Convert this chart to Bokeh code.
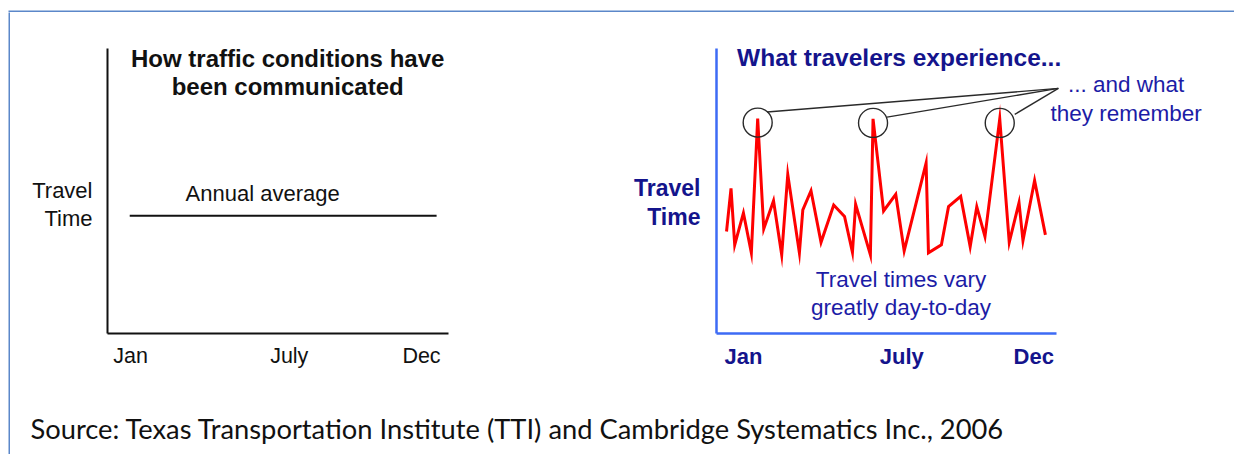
from bokeh.plotting import figure
from bokeh.models import Range1d, FixedTicker, Label, Spacer
from bokeh.layouts import column, row
from bokeh.embed import file_html
from bokeh.resources import INLINE

# ---------------- data ----------------
tick_months = [1, 7, 12]
tick_labels = ["Jan", "July", "Dec"]

# communicated annual average (left panel)
annual_avg_months = [0.97, 12.57]
annual_avg_value = [41.3, 41.3]

# experienced day-to-day travel times (right panel)
daily_months = [0.36, 0.53, 0.67, 1.00, 1.30, 1.54, 1.77, 2.14, 2.45, 2.68,
                3.12, 3.25, 3.56, 3.94, 4.42, 4.83, 5.13, 5.25, 5.81, 5.91,
                6.31, 6.77, 7.09, 7.92, 8.01, 8.50, 8.77, 9.23, 9.59, 9.84,
                10.15, 10.71, 11.07, 11.44, 11.59, 12.03, 12.44]
daily_times = [35.8, 50.9, 31.1, 42.3, 28.3, 75.4, 36.7, 46.6, 27.6, 55.8,
               28.3, 43.4, 50.1, 32.0, 45.1, 41.1, 28.5, 45.3, 27.6, 75.3,
               43.0, 48.8, 29.0, 59.8, 28.3, 31.1, 44.5, 48.1, 30.5, 44.5,
               34.0, 75.3, 32.0, 45.9, 32.6, 53.7, 34.6]

# ---------------- styles ----------------
BORDER = "#5b87c9"
NAVY = "#14148c"
TEXT_BLUE = "#1c1ca6"
AXIS_BLUE = "#3d6bf5"
INK = "#111111"
FONT = "Liberation Sans"

W, H = 1234, 454
TOP = 12  # height of the strip that carries the top border rule


def bare(width, height, fill):
    f = figure(width=width, height=height, x_axis_type=None, y_axis_type=None,
               x_range=Range1d(0, width), y_range=Range1d(0, height),
               output_backend="svg", toolbar_location=None, min_border=0,
               outline_line_color=None, title=None)
    f.background_fill_color = fill
    f.border_fill_color = fill
    f.xgrid.visible = False
    f.ygrid.visible = False
    return f


def panel(width, height, xr, borders, axis_color, axis_width, xbounds,
          label_color, label_style, xlabel_size, ylabel_size, ylab_ticks, ylab_text, ystandoff):
    l, r, t, b = borders
    p = figure(width=width, height=height, x_range=Range1d(*xr), y_range=Range1d(0, 100),
               output_backend="svg", toolbar_location=None, title=None,
               min_border_left=l, min_border_right=r, min_border_top=t, min_border_bottom=b,
               outline_line_color=None)
    p.xgrid.visible = False
    p.ygrid.visible = False
    for ax in (p.xaxis, p.yaxis):
        ax.axis_line_color = axis_color
        ax.axis_line_width = axis_width
        ax.major_tick_line_color = None
        ax.minor_tick_line_color = None
        ax.major_tick_out = 0
        ax.major_tick_in = 0
        ax.minor_tick_out = 0
        ax.minor_tick_in = 0
        ax.major_label_text_font = FONT
        ax.major_label_text_font_style = label_style
        ax.major_label_text_color = label_color
    p.xaxis.bounds = xbounds
    p.xaxis.ticker = FixedTicker(ticks=tick_months)
    p.xaxis.major_label_overrides = dict(zip(tick_months, tick_labels))
    p.xaxis.major_label_text_font_size = xlabel_size
    p.xaxis.major_label_standoff = 10
    p.yaxis.ticker = FixedTicker(ticks=ylab_ticks)
    p.yaxis.major_label_overrides = dict(zip(ylab_ticks, ylab_text))
    p.yaxis.major_label_text_font_size = ylabel_size
    p.yaxis.major_label_standoff = ystandoff
    p.yaxis.major_label_orientation = "horizontal"
    return p


def lab(p, x, y, text, size, color, style="normal", align="left", font=FONT):
    p.add_layout(Label(x=x, y=y, text=text, text_font=font, text_font_size=size,
                       text_color=color, text_font_style=style, text_align=align,
                       text_baseline="alphabetic"))


# ---------------- top strip with border rule ----------------
top = bare(W, TOP, "white")
top.quad(left=[8], right=[W], bottom=[0], top=[2], fill_color=BORDER, line_color=None)

# ---------------- left panel ----------------
left = panel(607, 390, (0.13, 13.02), (97, 169, 35, 69), INK, 2, (0.13, 13.02),
             INK, "normal", "21.5px", "22px", [40.4, 50.3], ["Time", "Travel"], 15)
left.line(annual_avg_months, annual_avg_value, line_color=INK, line_width=2)
lab(left, 6.94, 96.6, "How traffic conditions have", "24px", INK, "bold", "center")
lab(left, 6.94, 86.8, "been communicated", "24px", INK, "bold", "center")
lab(left, 3.08, 49.1, "Annual average", "22px", INK)

# ---------------- right panel ----------------
right = panel(617, 390, (-0.02, 19.30), (99, 8, 36, 68), AXIS_BLUE, 2.5, (-0.02, 12.86),
              NAVY, "bold", "22px", "23px", [40.9, 51.0], ["Time", "Travel"], 16)
right.line(daily_months, daily_times, line_color="#ff0000", line_width=3, line_join="miter")

# scale factors (px per data unit) of the right frame
fw = 617 - 99 - 8
fh = 390 - 36 - 68
pxm = fw / (right.x_range.end - right.x_range.start)
pxv = fh / (right.y_range.end - right.y_range.start)

peaks = sorted(sorted(range(len(daily_times)), key=lambda i: daily_times[i])[-3:],
               key=lambda i: daily_months[i])
pk_x = [daily_months[i] for i in peaks]
pk_y = [daily_times[i] for i in peaks]
right.scatter(pk_x, [v - 4 / pxv for v in pk_y], marker="circle", size=29,
              fill_color=None, line_color="#2a2a2a", line_width=1.4)

apex = (12.93, 86.0)
offs = [(9.4, 6.6), (14.0, 1.8), (15.0, 4.5)]
x0 = [x + dx / pxm for x, (dx, dy) in zip(pk_x, offs)]
y0 = [y + dy / pxv for y, (dx, dy) in zip(pk_y, offs)]
right.segment(x0, y0, [apex[0]] * 3, [apex[1]] * 3, line_color="#2a2a2a", line_width=1.4)

lab(right, 0.76, 96.9, "What travelers experience...", "24.5px", NAVY, "bold")
lab(right, 6.97, 18.8, "Travel times vary", "22.5px", TEXT_BLUE, align="center")
lab(right, 6.97, 9.0, "greatly day-to-day", "22.5px", TEXT_BLUE, align="center")
lab(right, 15.5, 87.4, "... and what", "22.5px", TEXT_BLUE, align="center")
lab(right, 15.5, 77.3, "they remember", "22.5px", TEXT_BLUE, align="center")

# ---------------- source line ----------------
src = bare(1224, 52, "white")
src.add_layout(Label(x=20, y=26, text="Source: Texas Transportation Institute (TTI) and Cambridge Systematics Inc., 2006",
                     text_font="Lato", text_font_size="27.3px", text_color=INK,
                     text_baseline="alphabetic"))

layout = column(
    top,
    row(Spacer(width=8, height=H - TOP), bare(2, H - TOP, BORDER),
        column(row(left, right), src)),
)

open("out.html", "w").write(file_html(layout, INLINE))
